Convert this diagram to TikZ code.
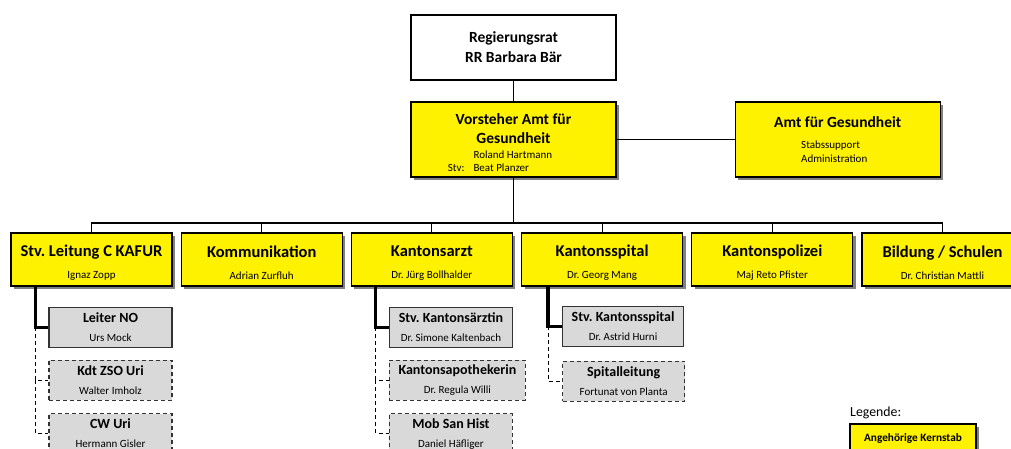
\documentclass[tikz,border=0pt]{standalone}
\usepackage{fontspec}
\setmainfont{Carlito}
\usetikzlibrary{positioning,shadows}
\frenchspacing
\newcommand{\namen}{\mdseries\fontsize{11}{\baselineskip}\selectfont}
\tikzset{
    %Define style for the top box
    topbox/.style={
           rectangle,
           draw=black, line width=1.2pt,
           fill=white,
           minimum width=205pt,
           minimum height=65pt,
           inner sep=0pt,
           align=center,
           font=\bfseries\fontsize{15.5}{20}\selectfont},
    %Define style for core staff boxes
    kern/.style={
           rectangle,
           draw=black, line width=1.2pt,
           fill=yellow,
           drop shadow={shadow xshift=3pt, shadow yshift=-3pt, opacity=1},
           inner sep=0pt,
           align=center},
    leitung/.style={
           kern,
           align=flush center,
           minimum width=205pt,
           text width=205pt,
           minimum height=75pt,
           font=\bfseries\fontsize{15.5}{19}\selectfont},
    bereich/.style={
           kern,
           align=flush center,
           minimum width=161pt,
           text width=161pt,
           minimum height=53pt,
           font=\bfseries\fontsize{16.5}{22}\selectfont,
           execute at begin node={\rule{0pt}{18pt}}},
    % Define style for staff boxes
    stab/.style={
           rectangle,
           draw=black!80, line width=1.2pt,
           fill=black!15,
           minimum width=123pt,
           minimum height=40pt,
           inner sep=0pt,
           align=center,
           font=\bfseries\fontsize{14}{19}\selectfont},
    beizug/.style={
           stab,
           dash pattern=on 4pt off 3pt},
    % Define line styles
    linie/.style={
           line width=1.1pt},
    fuehrung/.style={
           line width=3.2pt},
    vertretung/.style={
           line width=0.9pt,
           dash pattern=on 4pt off 3pt},
}

\begin{document}
\begin{tikzpicture}[x=1pt, y=-1pt, node distance=8pt]
    \useasboundingbox (0,0) rectangle (1011,448);
 %top
    \node[topbox] (rr) at (513.5,47.5) {Regierungsrat\\RR Barbara Bär};
    \node[leitung, execute at begin node={\rule{0pt}{17pt}}] (vorsteher) at (513.5,139.5)
          {Vorsteher Amt für\\Gesundheit\\[-4pt]\namen\makebox[80pt][l]{Roland Hartmann}\\[-6pt]\makebox[80pt][l]{\llap{Stv:\hspace{9pt}}Beat Planzer}};
    \node[leitung, right=118pt of vorsteher] (amt)
          {Amt für Gesundheit\\[2pt]\namen\makebox[73pt][l]{Stabssupport}\\[-5pt]\makebox[73pt][l]{Administration}};
 %areas
    \node[bereich] (kafur) at (91.5,259.5) {Stv. Leitung C KAFUR\\\namen Ignaz Zopp};
    \node[bereich, right=of kafur] (komm) {Kommunikation\\\namen Adrian Zurfluh};
    \node[bereich, right=of komm] (arzt) {Kantonsarzt\\\namen Dr. Jürg Bollhalder};
    \node[bereich, right=of arzt] (spital) {Kantonsspital\\\namen Dr. Georg Mang};
    \node[bereich, right=of spital] (polizei) {Kantonspolizei\\\namen Maj Reto Pfister};
    \node[bereich, right=of polizei] (bildung) {Bildung / Schulen\\\namen Dr. Christian Mattli};
 %staff
    \node[stab, below=20pt of kafur.south west, anchor=north west, xshift=38pt] (leiter) {Leiter NO\\\namen Urs Mock};
    \node[beizug, below=12pt of leiter] (kdt) {Kdt ZSO Uri\\\namen Walter Imholz};
    \node[beizug, below=12pt of kdt] (cw) {CW Uri\\\namen Hermann Gisler};
    \node[stab, below=20pt of arzt.south west, anchor=north west, xshift=38pt] (stvarzt) {Stv. Kantonsärztin\\\namen Dr. Simone Kaltenbach};
    \node[beizug, minimum width=136pt, below=12pt of stvarzt.south west, anchor=north west] (apotheke) {Kantonsapothekerin\\\namen Dr. Regula Willi};
    \node[beizug, below=12pt of apotheke.south west, anchor=north west] (mobsan) {Mob San Hist\\\namen Daniel Häfliger};
    \node[stab, minimum width=121pt, below=19pt of spital.south west, anchor=north west, xshift=41pt] (stvspital) {Stv. Kantonsspital\\\namen Dr. Astrid Hurni};
    \node[beizug, minimum width=122pt, below=14pt of stvspital.south west, anchor=north west] (spitalleitung) {Spitalleitung\\\namen Fortunat von Planta};
 %legend
    \node[anchor=west, inner sep=0pt, font=\fontsize{13.8}{16}\selectfont] (legende) at (850,413) {Legende:};
    \node[kern, minimum width=126pt, minimum height=28pt,
          font=\bfseries\fontsize{11.3}{13}\selectfont] (legbox) at (913,438) {Angehörige Kernstab};
 %edges
    \coordinate (bus) at (513.5,223);
    \draw[linie] (rr) -- (vorsteher);
    \draw[linie] (vorsteher) -- (amt);
    \draw[linie] (vorsteher.south) -- (bus);
    \draw[linie] (kafur.north) |- (bildung.north |- bus) -- (bildung.north);
    \draw[linie] (komm.north) -- (komm.north |- bus);
    \draw[linie] (arzt.north) -- (arzt.north |- bus);
    \draw[linie] (spital.north) -- (spital.north |- bus);
    \draw[linie] (polizei.north) -- (polizei.north |- bus);
    \draw[fuehrung] ([xshift=-13pt]leiter.west |- kafur.south) |- (leiter.west);
    \draw[vertretung] ([xshift=-13pt]leiter.west) |- (kdt.west);
    \draw[vertretung] ([xshift=-13pt]kdt.west) |- (cw.west);
    \draw[fuehrung] ([xshift=-13pt]stvarzt.west |- arzt.south) |- (stvarzt.west);
    \draw[vertretung] ([xshift=-13pt]stvarzt.west) |- (apotheke.west);
    \draw[vertretung] ([xshift=-13pt]apotheke.west) |- (mobsan.west);
    \draw[fuehrung] ([xshift=-14pt]stvspital.west |- spital.south) |- (stvspital.west);
    \draw[vertretung] ([xshift=-14pt]stvspital.west) |- (spitalleitung.west);
\end{tikzpicture}
\end{document}
